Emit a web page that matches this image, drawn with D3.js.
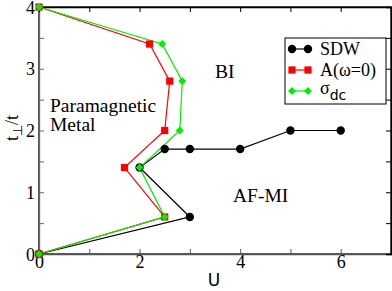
<!DOCTYPE html>
<html>
<head>
<meta charset="utf-8">
<script src="https://cdn.jsdelivr.net/npm/d3@7/dist/d3.min.js"></script>
<style>
body { margin: 0; background: #fff; }
svg { display: block; }
</style>
</head>
<body>
<svg width="392" height="291"></svg>
<script>
// values
var sdwU = [0, 3, 2, 2.5, 3, 4, 5, 6]
var sdwT = [0, 0.6, 1.4, 1.7, 1.7, 1.7, 2, 2]
var aU = [0, 2.5, 1.7, 2.5, 2.6, 2.2, 0]
var aT = [0, 0.6, 1.4, 2, 2.8, 3.4, 4]
var sigU = [0, 2.5, 2, 2.8, 2.85, 2.45, 0]
var sigT = [0, 0.6, 1.4, 2, 2.8, 3.4, 4]
var xTicks = [0, 2, 4, 6]
var yTicks = [0, 1, 2, 3, 4]

var svg = d3.select("svg")
var padL = 39, padR = 391, padT = 7, padB = 254

var x = d3.scaleLinear().domain([0, 7]).range([padL, padR])
var y = d3.scaleLinear().domain([0, 4]).range([padB, padT])

function pts(us, ts) {
  return us.map(function(u, i) { return [u, ts[i]] })
}

// frame
svg.append("rect")
  .attr("x", padL).attr("y", padT)
  .attr("width", padR - padL).attr("height", padB - padT)
  .attr("fill", "none").attr("stroke", "#000").attr("stroke-width", 1.3)

// axes with inward ticks
var serif = "'Liberation Serif', 'Times New Roman', serif"
var gx = svg.append("g").attr("transform", "translate(0," + padB + ")")
  .call(d3.axisBottom(x).tickValues(d3.range(0, 8, 1)).tickSize(-5).tickFormat(function(d) {
    return xTicks.indexOf(d) >= 0 ? d : ""
  }).tickPadding(6))
var gy = svg.append("g").attr("transform", "translate(" + padL + ",0)")
  .call(d3.axisLeft(y).tickValues(d3.range(0, 4.01, 0.5)).tickSize(-5).tickFormat(function(d) {
    return yTicks.indexOf(d) >= 0 ? d : ""
  }).tickPadding(4))
var gxt = svg.append("g").attr("transform", "translate(0," + padT + ")")
  .call(d3.axisTop(x).tickValues(d3.range(0, 8, 1)).tickSize(-5).tickFormat(""))
var gyr = svg.append("g").attr("transform", "translate(" + padR + ",0)")
  .call(d3.axisRight(y).tickValues(d3.range(0, 4.01, 0.5)).tickSize(-5).tickFormat(""))

;[gx, gy, gxt, gyr].forEach(function(g) {
  g.select(".domain").attr("stroke", "#000").attr("stroke-width", 1.3)
  g.selectAll(".tick line").attr("stroke", "#000")
  g.selectAll("text").attr("font-family", serif).attr("font-size", 18).attr("fill", "#000")
})
gy.select(".domain").attr("stroke", "#666")
gx.select(".domain").attr("stroke", "#555")
gy.selectAll(".tick line").attr("stroke", "#666")
gx.selectAll(".tick line").attr("stroke", "#555")
gx.selectAll("text").attr("dy", "0.45em")
gy.selectAll("text").attr("dy", "0.34em")

var line = d3.line().x(function(d) { return x(d[0]) }).y(function(d) { return y(d[1]) })

// series lines
svg.append("path").datum(pts(sdwU, sdwT)).attr("d", line)
  .attr("fill", "none").attr("stroke", "#000").attr("stroke-width", 1.2)
svg.append("path").datum(pts(aU, aT)).attr("d", line)
  .attr("fill", "none").attr("stroke", "#ff0000").attr("stroke-width", 1.2)
svg.append("path").datum(pts(sigU, sigT)).attr("d", line)
  .attr("fill", "none").attr("stroke", "#00ee00").attr("stroke-width", 1.2)

// markers
svg.selectAll(".sdw").data(pts(sdwU, sdwT)).enter().append("circle")
  .attr("cx", function(d) { return x(d[0]) })
  .attr("cy", function(d) { return y(d[1]) })
  .attr("r", 4.2).attr("fill", "#000")
svg.selectAll(".aw").data(pts(aU, aT)).enter().append("rect")
  .attr("x", function(d) { return x(d[0]) - 3.6 })
  .attr("y", function(d) { return y(d[1]) - 3.6 })
  .attr("width", 7.2).attr("height", 7.2).attr("fill", "#ff0000")
var diamond = d3.symbol().type(d3.symbolDiamond2).size(40)
svg.selectAll(".sig").data(pts(sigU, sigT)).enter().append("path")
  .attr("d", diamond)
  .attr("transform", function(d) { return "translate(" + x(d[0]) + "," + y(d[1]) + ")" })
  .attr("fill", "#00ee00")

// region labels
function label(txt, px, py) {
  svg.append("text").attr("x", px).attr("y", py)
    .attr("font-family", serif).attr("font-size", 19.5).text(txt)
}
label("Paramagnetic", 50, 112)
label("Metal", 50, 131)
label("BI", 215, 78)
label("AF-MI", 233, 202)

// axis titles
svg.append("text").attr("x", 214).attr("y", 286).attr("text-anchor", "middle")
  .attr("font-family", "'DejaVu Sans', sans-serif").attr("font-size", 17).text("U")
var yt = svg.append("text").attr("transform", "translate(18,128) rotate(-90)")
  .attr("text-anchor", "middle").attr("font-family", serif).attr("font-size", 18)
yt.append("tspan").text("t")
yt.append("tspan").attr("font-size", 13).attr("dy", 4).text("⊥")
yt.append("tspan").attr("dy", -4).text("/t")

// legend
var lg = svg.append("g")
lg.append("rect").attr("x", 285).attr("y", 38).attr("width", 101).attr("height", 66)
  .attr("fill", "#fff").attr("stroke", "#000").attr("stroke-width", 1)
var entries = [
  { name: "SDW", color: "#000", kind: "circle" },
  { name: "A(ω=0)", color: "#ff0000", kind: "square" },
  { name: "σ", color: "#00ee00", kind: "diamond" }
]
entries.forEach(function(e, i) {
  var ly = 49 + i * 21
  lg.append("line").attr("x1", 292).attr("x2", 308).attr("y1", ly).attr("y2", ly)
    .attr("stroke", e.color).attr("stroke-width", 1.2)
  ;[292, 308].forEach(function(px) {
    if (e.kind == "circle") {
      lg.append("circle").attr("cx", px).attr("cy", ly).attr("r", 4.2).attr("fill", e.color)
    } else if (e.kind == "square") {
      lg.append("rect").attr("x", px - 3.6).attr("y", ly - 3.6).attr("width", 7.2).attr("height", 7.2).attr("fill", e.color)
    } else {
      lg.append("path").attr("d", diamond).attr("transform", "translate(" + px + "," + ly + ")").attr("fill", e.color)
    }
  })
  var t = lg.append("text").attr("x", 320).attr("y", ly + 6)
    .attr("font-family", serif).attr("font-size", 18).text(e.name)
  if (e.kind == "diamond") {
    t.attr("y", ly + 3)
    t.append("tspan").attr("font-family", "'DejaVu Sans', sans-serif").attr("font-size", 14)
      .attr("dy", 6).text("dc")
  }
})
</script>
</body>
</html>
